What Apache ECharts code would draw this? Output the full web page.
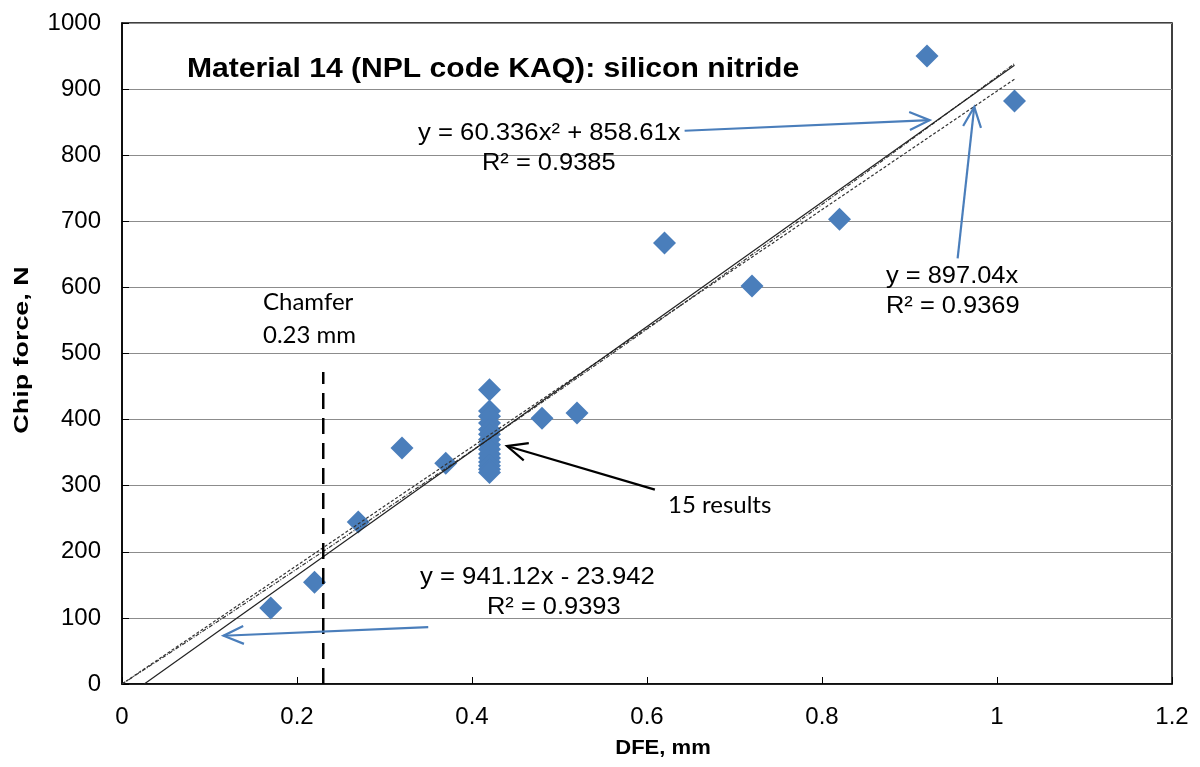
<!DOCTYPE html>
<html>
<head>
<meta charset="utf-8">
<script src="https://cdn.jsdelivr.net/npm/echarts@6/dist/echarts.min.js"></script>
<style>
  html, body { margin: 0; padding: 0; background: #fff; }
  #chipChart { width: 1200px; height: 767px; }
</style>
</head>
<body>
<div id="chipChart"></div>
<script>
// measured chip forces (DFE in mm, force in N)
const dfe = [0.17, 0.22, 0.27, 0.32, 0.37,
  0.42, 0.42, 0.42, 0.42, 0.42, 0.42, 0.42, 0.42, 0.42, 0.42, 0.42, 0.42, 0.42, 0.42, 0.42,
  0.48, 0.52, 0.62, 0.72, 0.82, 0.92, 1.02]
const force = [115, 154, 245, 357, 334,
  445, 413, 405, 395, 385, 378, 370, 362, 355, 348, 342, 336, 330, 325, 320,
  402, 410, 667, 602, 703, 950, 882]

// trendline coefficients as printed on the chart
const quadFit = [60.336, 858.61]      // y = a x^2 + b x
const propFit = [897.04]              // y = a x
const linFit = [941.12, -23.942]      // y = a x + b
const fitRange = [0, 1.02]

// chamfer marker
const chamferX = 0.23
const chamferTop = 472

// annotation arrows, data coords
const arrowFrom = [[0.643, 837], [0.955, 644], [0.35, 86], [0.609, 294]]
const arrowTo = [[0.923, 853], [0.974, 873], [0.116, 73], [0.440, 360]]
const arrowColor = ['#4a7ebb', '#4a7ebb', '#4a7ebb', '#000']

const xTicks = [0, 0.2, 0.4, 0.6, 0.8, 1, 1.2]
const yTicks = [0, 100, 200, 300, 400, 500, 600, 700, 800, 900, 1000]

function curve(fn, from, to, steps) {
  let pts = []
  for (let i = 0; i <= steps; i++) {
    let x = from + (to - from) * i / steps
    pts.push([x, fn(x)])
  }
  return pts
}

const quadLine = curve(x => quadFit[0] * x * x + quadFit[1] * x, fitRange[0], fitRange[1], 40)
const propLine = curve(x => propFit[0] * x, fitRange[0], fitRange[1], 1)
const linStart = -linFit[1] / linFit[0]
const linLine = curve(x => linFit[0] * x + linFit[1], linStart, fitRange[1], 1)

const font = '"Liberation Sans", Arial, sans-serif'
const calibriLike = 'Lato, "Open Sans", sans-serif'

let myChart = echarts.init(document.getElementById('chipChart'))
myChart.setOption({
  animation: false,
  grid: {
    left: 122, right: 28, top: 23, bottom: 83,
    show: true, borderColor: '#000', borderWidth: 1.5
  },
  xAxis: {
    type: 'value', min: 0, max: 1.2, interval: 0.2,
    axisLine: { lineStyle: { color: '#000', width: 1.5 } },
    axisTick: { inside: true, length: 7, lineStyle: { color: '#000' } },
    axisLabel: { fontFamily: font, fontSize: 24, color: '#000', margin: 21,
      formatter: v => String(xTicks.find(t => Math.abs(t - v) < 1e-6)) },
    splitLine: { show: false }
  },
  yAxis: {
    type: 'value', min: 0, max: 1000, interval: 100,
    axisLine: { lineStyle: { color: '#000', width: 1.5 } },
    axisTick: { inside: true, length: 7, lineStyle: { color: '#000' } },
    axisLabel: { fontFamily: font, fontSize: 24, color: '#000', margin: 21,
      formatter: v => String(yTicks.find(t => Math.abs(t - v) < 1e-6)) },
    splitLine: { lineStyle: { color: '#8c8c8c', width: 1.2 } }
  },
  series: [
    {
      type: 'scatter',
      symbol: 'diamond',
      symbolSize: [23, 23],
      itemStyle: { color: '#4a7ebb', opacity: 1 },
      z: 2,
      data: dfe.map((x, i) => [x, force[i]])
    },
    {
      type: 'line', showSymbol: false, z: 3,
      lineStyle: { color: '#333', width: 1.2, type: [4, 1.5, 1, 1.5] },
      data: quadLine
    },
    {
      type: 'line', showSymbol: false, z: 3,
      lineStyle: { color: '#333', width: 1.2, type: [3, 2] },
      data: propLine
    },
    {
      type: 'line', showSymbol: false, z: 3,
      lineStyle: { color: '#222', width: 1.2 },
      data: linLine
    },
    {
      type: 'line', showSymbol: false, z: 3,
      lineStyle: { color: '#000', width: 2.5, type: [16, 9] },
      data: [[chamferX, 0], [chamferX, chamferTop]]
    }
  ]
})

// arrows and text annotations
let graphics = []
arrowFrom.forEach((from, i) => {
  let p0 = myChart.convertToPixel({ gridIndex: 0 }, from)
  let p1 = myChart.convertToPixel({ gridIndex: 0 }, arrowTo[i])
  let ang = Math.atan2(p1[1] - p0[1], p1[0] - p0[0])
  let len = 22, spread = 0.42
  let a = [p1[0] - len * Math.cos(ang - spread), p1[1] - len * Math.sin(ang - spread)]
  let b = [p1[0] - len * Math.cos(ang + spread), p1[1] - len * Math.sin(ang + spread)]
  let style = { stroke: arrowColor[i], lineWidth: 2.2, fill: null }
  graphics.push({ type: 'polyline', z: 10, shape: { points: [p0, p1] }, style: style })
  graphics.push({ type: 'polyline', z: 10, shape: { points: [a, p1, b] }, style: style })
})

function label(text, x, y, opts) {
  opts = opts || {}
  graphics.push({
    type: 'text', x: x, y: y, z: 10,
    scaleX: opts.sx || 1, scaleY: opts.sy || 1, rotation: opts.rot || 0,
    style: {
      text: text, font: opts.font || ('24px ' + font), fill: '#000',
      align: opts.align || 'left', verticalAlign: 'middle'
    }
  })
}
label('Material 14 (NPL code KAQ): silicon nitride', 187, 70, { font: 'bold 27px ' + font, sx: 1.115 })
label('y = 60.336x² + 858.61x', 418, 133, { sx: 1.07 })
label('R² = 0.9385', 482, 163, { sx: 1.06 })
label('y = 897.04x', 886, 276, { sx: 1.06 })
label('R² = 0.9369', 886, 306, { sx: 1.06 })
label('y = 941.12x - 23.942', 420, 577, { sx: 1.07 })
label('R² = 0.9393', 487, 607, { sx: 1.06 })
label('15 results', 668, 505, { font: '24px ' + calibriLike })
label('Chamfer', 263, 302, { font: '24px ' + calibriLike })
label('0.23 mm', 263, 335, { font: '24px ' + calibriLike })
label('DFE, mm', 663, 748, { font: 'bold 21px ' + font, align: 'center', sx: 1.05 })
label('Chip force, N', 22, 350, { font: 'bold 21px ' + font, align: 'center', rot: Math.PI / 2, sx: 1.28 })

myChart.setOption({ graphic: graphics })
</script>
</body>
</html>
